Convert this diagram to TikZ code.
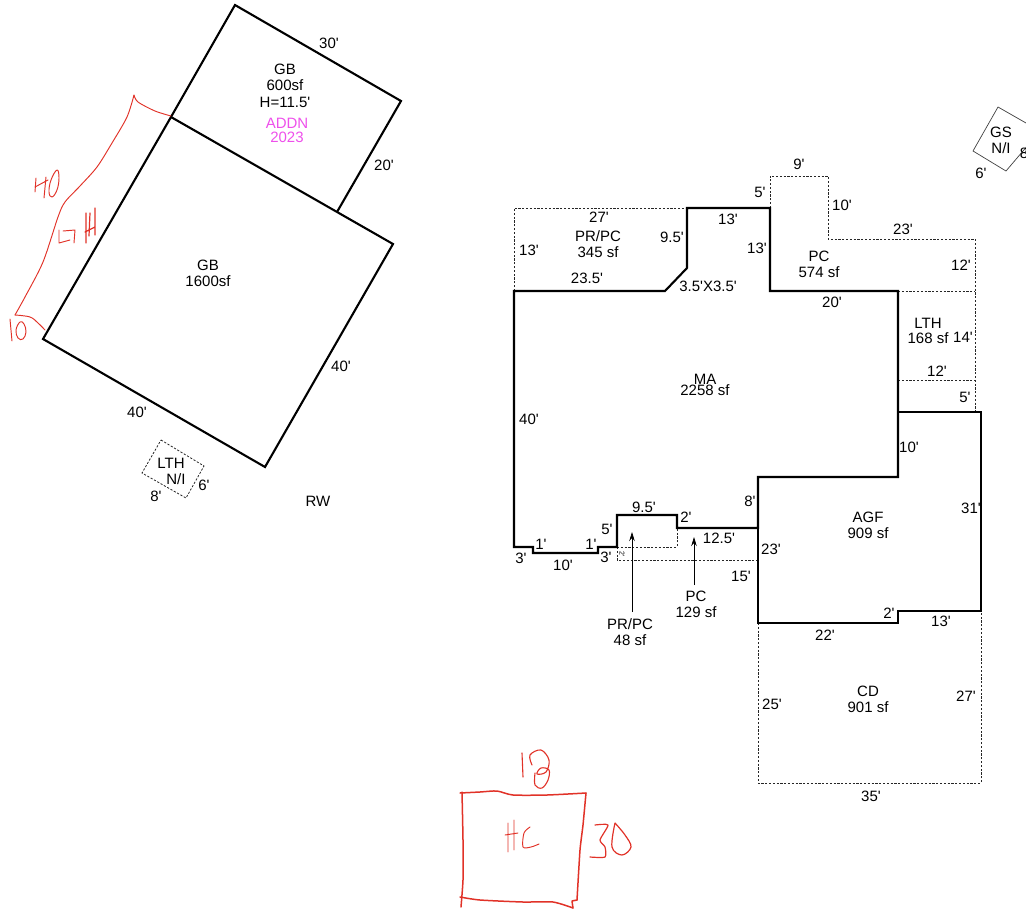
\documentclass[tikz,border=0pt]{standalone}
\usepackage{fontspec}
\newfontfamily\plainf{Liberation Sans}
\usetikzlibrary{arrows.meta}
\definecolor{ink}{RGB}{225,50,40}
\definecolor{addn}{RGB}{238,80,235}
\tikzset{x=1pt,y=-1pt,
 wall/.style={draw=black,line width=2.1pt,line join=miter},
 dotline/.style={draw=black!85,line width=0.7pt,dash pattern=on 2.2pt off 1.6pt},
 thin box/.style={draw=black!75,line width=0.7pt},
 lab/.style={font=\plainf\fontsize{15}{15.8}\selectfont,inner sep=0pt,align=center},
 pen/.style={draw=ink,line width=0.95pt,line cap=round,line join=round},
 heavy pen/.style={draw=ink,line width=1.5pt,line cap=round,line join=round},
 pointer/.style={draw=black,line width=0.75pt,-{Stealth[length=9pt,width=5.5pt]}}}
\begin{document}
\begin{tikzpicture}
\useasboundingbox (0,0) rectangle (1026,911);
\clip (0,0) rectangle (1026,911);
% left buildings
\draw[wall] (171,117) -- (393,244) -- (265,467) -- (43,339) -- cycle;
\draw[wall] (171,117) -- (235,5) -- (401,101) -- (337,212);
\draw[dotline,line width=0.8pt] (161,440) -- (204,466) -- (186,498) -- (142,473) -- cycle;
\draw[thin box] (998,107) -- (1040,131) -- (1006,171) -- (973,151) -- cycle;
% dotted additions
\draw[dotline] (514,291) -- (514,208) -- (687,208);
\draw[dotline] (770,208) -- (770,176) -- (828,176) -- (828,239) -- (975,239) -- (975,412);
\draw[dotline] (898,291) -- (975,291);
\draw[dotline] (898,380) -- (975,380);
\draw[dotline] (758,623) -- (758,783) -- (981,783) -- (981,611);
\draw[dotline] (617,547) -- (617,560) -- (758,560);
\draw[dotline] (617,547) -- (677,547) -- (677,528);
% main walls
\draw[wall] (514,291) -- (665,291) -- (687,268) -- (687,208) -- (770,208) -- (770,291) -- (898,291) -- (898,477) -- (758,477) -- (758,528) -- (677,528) -- (677,515) -- (617,515) -- (617,547) -- (598,547) -- (598,553) -- (533,553) -- (533,547) -- (514,547) -- cycle;
\draw[wall] (758,477) -- (758,623) -- (898,623) -- (898,611) -- (981,611) -- (981,412) -- (898,412);
% pointers
\coordinate (a1) at (632,612); \coordinate (a2) at (632,532);
\coordinate (b1) at (694,585); \coordinate (b2) at (694,537);
\draw[pointer] (a1) -- (a2);
\draw[pointer] (b1) -- (b2);
% labels
\foreach \x/\y/\t in {
329/43/{30'},285/69/{GB},285/85/{600sf},285/102/{H=11.5'},384/165/{20'},208/273/{GB\\1600sf},341/366/{40'},137/412/{40'},318/501/{RW},
171/463/{LTH},176/479/{N/I},156/496/{8'},204/485/{6'},
1001/140/{GS\\N/I},981/173/{6'},
799/164/{9'},842/205/{10'},760/192/{5'},599/217/{27'},903/229/{23'},
598/244/{PR/PC\\345 sf},529/250/{13'},672/237/{9.5'},728/219/{13'},757/248/{13'},
819/264/{PC\\574 sf},961/265/{12'},587/278/{23.5'},708/286/{3.5'X3.5'},832/302/{20'},
928/331/{LTH\\168 sf},963/337/{14'},937/371/{12'},965/397/{5'},
705/379/{MA},705/390/{2258 sf},529/419/{40'},909/447/{10'},
868/525/{AGF\\909 sf},971/508/{31'},750/501/{8'},
644/507/{9.5'},686/517/{2'},607/529/{5'},541/544/{1'},591/544/{1'},
521/558/{3'},606/557/{3'},563/565/{10'},719/538/{12.5'},771/549/{23'},741/576/{15'},
696/604/{PC\\129 sf},630/632/{PR/PC\\48 sf},
889/613/{2'},941/621/{13'},825/635/{22'},
868/699/{CD\\901 sf},772/704/{25'},966/696/{27'},871/796/{35'}}{
  \node[lab] at (\x,\y) {\t};
}
\node[lab,font=\plainf\fontsize{7}{7}\selectfont,rotate=-90] at (622,554) {2'};
\node[lab,text=addn,font=\plainf\fontsize{15}{14}\selectfont] at (287,130) {ADDN\\2023};
\node[lab] at (1024,153) {8};
% red ink: left strip
\draw[pen] plot[smooth,tension=0.5] coordinates {(171,116) (155,111) (138,102) (134,95)};
\draw[pen] plot[smooth,tension=0.5] coordinates {(134,95) (127,117) (112,143) (97,167) (80,186) (65,202) (58,217) (43,262) (25,297) (15,315)};
\draw[pen] plot[smooth,tension=0.6] coordinates {(15,315) (30,317) (38,323) (45,330)};
% 40
\draw[pen] (36,178) -- (35,192) (35,187) -- (48,180) (46,177) -- (44,198);
\draw[pen] plot[smooth cycle,tension=0.7] coordinates {(57,170) (51,180) (49,192) (52,197) (57,190) (59,178)};
% LTH
\draw[pen] (59,230) -- (59,243) -- (70,240) (63,231) -- (75,230) -- (74,243);
\draw[pen,line width=1.2pt] (86,213) -- (86,243) (90,213) -- (89,236) (85,232) -- (95,227) (95,208) -- (95,235);
% 10
\draw[pen] (10,319) -- (12,341);
\draw[pen] plot[smooth cycle,tension=0.7] coordinates {(20,322) (16,330) (18,338) (23,339) (26,332) (24,324)};
% HC rectangle
\draw[heavy pen] plot[smooth,tension=0.4] coordinates {(460,793) (480,792) (497,791) (513,795) (547,795) (586,793)};
\draw[heavy pen] plot[smooth,tension=0.3] coordinates {(586,793) (583,825) (580,850) (577,900)};
\draw[heavy pen] (577,900) -- (572,901) -- (573,908);
\draw[heavy pen] plot[smooth,tension=0.4] coordinates {(460,897) (480,900) (523,902) (553,902) (573,908)};
\draw[heavy pen] plot[smooth,tension=0.3] coordinates {(462,792) (463,840) (463,880) (461,907)};
% Hc
\draw[pen] (508,823) -- (508,852) (514,820) -- (514,850) (505,835) -- (518,833);
\draw[pen] plot[smooth,tension=0.5] coordinates {(530,827) (524,833) (523,847) (531,847) (539,844)};
% 18
\draw[pen,line width=1.1pt] (522,753) -- (523,777);
\draw[pen,line width=1.1pt] plot[smooth,tension=0.6] coordinates {(532,765) (530,755) (541,750) (549,760) (546,772) (537,774) (541,768) (549,770) (548,780) (542,788) (535,785) (535,773)};
% 30
\draw[pen,line width=1.2pt] plot[smooth,tension=0.4] coordinates {(595,825) (608,825) (600,840) (605,847) (605,857) (590,857)};
\draw[pen,line width=1.2pt] plot[smooth,tension=0.6] coordinates {(615,823) (612,847) (622,855) (631,847) (625,835) (615,823)};
\end{tikzpicture}
\end{document}
